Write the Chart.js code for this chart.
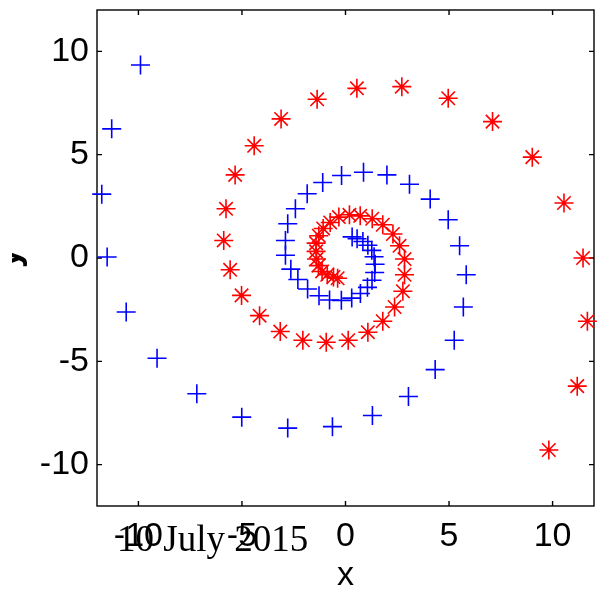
<!DOCTYPE html>
<html>
<head>
<meta charset="utf-8">
<script src="https://cdn.jsdelivr.net/npm/chart.js@4/dist/chart.umd.min.js"></script>
<style>
  html, body { margin: 0; padding: 0; background: #fff; }
</style>
</head>
<body>
<canvas id="espiral" width="597" height="593"></canvas>
<script>
// espiral azul (+), de fora para dentro
var espiral1X = [-9.90, -11.29, -11.77, -11.51, -10.59, -9.10, -7.18, -5.01, -2.79, -0.63,
  1.30, 3.04, 4.33, 5.25, 5.69, 5.83, 5.51, 4.96, 4.09, 3.09,
  2.00, 0.87, -0.19, -1.10, -1.85, -2.42, -2.79, -2.90, -2.90, -2.64,
  -2.30, -1.83, -1.28, -0.77, -0.20, 0.30, 0.72, 1.06, 1.28, 1.41,
  1.43, 1.38, 1.27, 1.08, 0.84, 0.56, 0.32];
var espiral1Y = [9.34, 6.25, 3.09, 0.05, -2.61, -4.85, -6.57, -7.70, -8.23, -8.16,
  -7.62, -6.70, -5.40, -3.98, -2.37, -0.81, 0.59, 1.85, 2.85, 3.57,
  4.02, 4.15, 3.99, 3.65, 3.11, 2.38, 1.66, 0.85, 0.13, -0.54,
  -1.04, -1.50, -1.83, -2.03, -2.05, -1.94, -1.72, -1.42, -1.08, -0.70,
  -0.30, 0.06, 0.37, 0.62, 0.80, 0.93, 1.02];

// espiral vermelha (*), de fora para dentro
var espiral2X = [9.82, 11.19, 11.68, 11.47, 10.55, 9.02, 7.10, 4.96, 2.72, 0.55,
  -1.37, -3.11, -4.41, -5.33, -5.77, -5.88, -5.57, -5.02, -4.15, -3.15,
  -2.06, -0.93, 0.13, 1.08, 1.80, 2.37, 2.77, 2.85, 2.85, 2.61,
  2.29, 1.80, 1.29, 0.71, 0.19, -0.32, -0.74, -1.08, -1.29, -1.42,
  -1.42, -1.40, -1.31, -1.13, -0.88, -0.58, -0.38];
var espiral2Y = [-9.29, -6.20, -3.06, 0.00, 2.66, 4.88, 6.60, 7.73, 8.29, 8.21,
  7.68, 6.73, 5.43, 4.02, 2.38, 0.85, -0.57, -1.81, -2.79, -3.56,
  -3.98, -4.08, -3.98, -3.59, -3.06, -2.37, -1.61, -0.81, -0.05, 0.59,
  1.16, 1.61, 1.90, 2.04, 2.09, 1.98, 1.72, 1.43, 1.08, 0.72,
  0.32, -0.05, -0.37, -0.65, -0.81, -0.92, -0.98];

var marcas = [-10, -5, 0, 5, 10];
var limite = 12;

function pontos(xs, ys) {
  var lista = [];
  for (var i = 0; i < xs.length; i++) {
    lista.push({ x: xs[i], y: ys[i] });
  }
  return lista;
}

var fonteEixo = { family: "'Liberation Sans', Arial, sans-serif", size: 34 };

// caixa preta com tracinhos para dentro nos quatro lados
const molduraPlugin = {
  id: 'moldura',
  beforeDatasetsDraw(chart) {
    const ctx = chart.ctx;
    const a = chart.chartArea;
    const sx = chart.scales.x;
    const sy = chart.scales.y;
    ctx.save();
    ctx.strokeStyle = '#000';
    ctx.lineWidth = 1.4;
    ctx.strokeRect(a.left, a.top, a.right - a.left, a.bottom - a.top);
    ctx.beginPath();
    marcas.forEach(v => {
      const px = sx.getPixelForValue(v);
      const py = sy.getPixelForValue(v);
      ctx.moveTo(px, a.bottom); ctx.lineTo(px, a.bottom - 5);
      ctx.moveTo(px, a.top); ctx.lineTo(px, a.top + 5);
      ctx.moveTo(a.left, py); ctx.lineTo(a.left + 5, py);
      ctx.moveTo(a.right, py); ctx.lineTo(a.right - 5, py);
    });
    ctx.stroke();
    ctx.restore();
  },
  afterDraw(chart) {
    const ctx = chart.ctx;
    const a = chart.chartArea;
    ctx.save();
    ctx.fillStyle = '#000';

    // rotulo do eixo x
    ctx.font = "34px 'Liberation Sans', Arial, sans-serif";
    ctx.textAlign = 'center';
    ctx.textBaseline = 'middle';
    ctx.fillText('x', (a.left + a.right) / 2, 576);

    // rotulo do eixo y (fica cortado na borda)
    ctx.save();
    ctx.beginPath();
    ctx.rect(12, 0, 40, chart.height);
    ctx.clip();
    ctx.font = "bold 36px 'Liberation Sans', Arial, sans-serif";
    ctx.translate(19, (a.top + a.bottom) / 2);
    ctx.rotate(-Math.PI / 2);
    ctx.textAlign = 'center';
    ctx.textBaseline = 'alphabetic';
    ctx.fillText('y', 0, 0);
    ctx.restore();

    // data por cima dos numeros do eixo
    ctx.font = "37px 'Liberation Serif', 'Times New Roman', serif";
    ctx.textAlign = 'left';
    ctx.textBaseline = 'alphabetic';
    ctx.fillText('10 July 2015', 117, 551);
    ctx.restore();
  }
};

var config = {
  type: 'scatter',
  data: {
    datasets: [
      {
        label: 'espiral 2',
        data: pontos(espiral2X, espiral2Y),
        pointStyle: 'star',
        pointRadius: 9.5,
        pointBorderWidth: 1.6,
        borderColor: '#ff0000',
        backgroundColor: '#ff0000',
        clip: false,
        order: 1
      },
      {
        label: 'espiral 2 centro',
        data: pontos(espiral2X, espiral2Y),
        pointStyle: 'circle',
        pointRadius: 2,
        pointBorderWidth: 0,
        borderColor: '#ff0000',
        backgroundColor: '#ff0000',
        clip: false,
        order: 0
      },
      {
        label: 'espiral 1',
        data: pontos(espiral1X, espiral1Y),
        pointStyle: 'cross',
        pointRadius: 9.5,
        pointBorderWidth: 1.6,
        borderColor: '#0000ff',
        backgroundColor: '#0000ff',
        clip: false,
        order: 2
      }
    ]
  },
  options: {
    responsive: false,
    animation: false,
    layout: { autoPadding: false, padding: { top: 10, right: 3, left: 0, bottom: 0 } },
    plugins: {
      legend: { display: false },
      tooltip: { enabled: false }
    },
    scales: {
      x: {
        type: 'linear',
        min: -limite,
        max: limite,
        afterBuildTicks: s => { s.ticks = marcas.map(v => ({ value: v })); },
        afterFit: s => { s.height = 87; s.paddingLeft = 0; s.paddingRight = 0; },
        grid: { display: false, drawTicks: false },
        border: { display: false },
        ticks: { padding: 10, color: '#000', font: fonteEixo, maxRotation: 0 }
      },
      y: {
        type: 'linear',
        min: -limite,
        max: limite,
        afterBuildTicks: s => { s.ticks = marcas.map(v => ({ value: v })); },
        afterFit: s => { s.width = 97; s.paddingTop = 0; s.paddingBottom = 0; },
        grid: { display: false, drawTicks: false },
        border: { display: false },
        ticks: { padding: 8, color: '#000', font: fonteEixo }
      }
    }
  },
  plugins: [molduraPlugin]
};

let grafico = new Chart(document.getElementById('espiral'), config);
</script>
</body>
</html>
